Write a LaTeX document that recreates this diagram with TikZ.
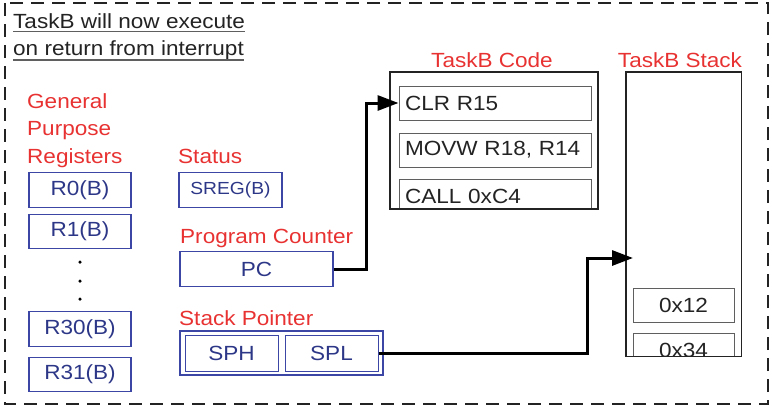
\documentclass[tikz,border=0pt]{standalone}
\usepackage{fontspec}
\setmainfont{Liberation Sans}[FakeStretch=1.1]
\usetikzlibrary{arrows.meta}
\definecolor{lblred}{RGB}{232,50,50}
\definecolor{regblue}{RGB}{60,70,165}
\definecolor{regtext}{RGB}{45,55,135}
\definecolor{codegray}{RGB}{95,95,95}
\definecolor{inkdark}{RGB}{35,35,35}
\begin{document}
\begin{tikzpicture}[x=1pt,y=-1pt,
  bigfont/.style={font=\fontsize{20.5}{24}\selectfont},
  lbl/.style={bigfont, anchor=base west, inner sep=0pt, text=lblred},
  ttl/.style={bigfont, anchor=base west, inner sep=0pt, text=inkdark},
  regbox/.style={bigfont, draw=regblue, line width=1.2pt, text=regtext, inner sep=0pt, minimum height=34.5pt},
  codebox/.style={bigfont, draw=codegray, line width=1pt, text=inkdark, inner xsep=6pt, inner ysep=0pt,
     minimum height=34pt, text width=180pt, align=left},
  stackbox/.style={bigfont, draw=codegray, line width=1pt, text=inkdark, inner sep=0pt,
     minimum width=101pt, minimum height=34pt},
  frame/.style={draw=inkdark, line width=1.4pt},
  arr/.style={line width=3pt, -{Triangle[length=21pt,width=15pt]}},
  vdot/.style={circle, fill=black, inner sep=0pt, minimum size=3.5pt}
]
\useasboundingbox (0,0) rectangle (772,410);
% outer dashed border
\draw[draw=inkdark, line width=1.3pt, dash pattern=on 13pt off 8pt] (5,3) rectangle (768,404);

% title
\node[ttl] (t1) at (13,28) {TaskB will now execute};
\node[ttl] (t2) at (13,55) {on return from interrupt};
\draw[codegray, line width=1.3pt] ([yshift=-3.5pt]t1.base west) -- ([yshift=-3.5pt]t1.base east);
\draw[codegray, line width=1.3pt] ([yshift=-5pt]t2.base west) -- ([yshift=-5pt]t2.base east);

% red labels
\node[lbl] (lgen) at (27,108) {General};
\node[lbl] (lpur) at (27,135.5) {Purpose};
\node[lbl] (lreg) at (27,163) {Registers};
\node[lbl] (lsta) at (178,163) {Status};
\node[lbl] (lpc)  at (180,243) {Program Counter};
\node[lbl] (lsp)  at (179,325) {Stack Pointer};
\node[lbl, anchor=base] (lcode) at (492,67) {TaskB Code};
\node[lbl, anchor=base] (lstk) at (680,67) {TaskB Stack};

% general purpose registers
\node[regbox, minimum width=102pt] (r0) at (80,190) {R0(B)};
\node[regbox, minimum width=102pt] (r1) at (80,231.5) {R1(B)};
\node[vdot] (d1) at (80,262) {};
\node[vdot] (d2) at (80,281) {};
\node[vdot] (d3) at (80,299) {};
\node[regbox, minimum width=102pt] (r30) at (80,329) {R30(B)};
\node[regbox, minimum width=102pt] (r31) at (80,374.5) {R31(B)};

% status, PC, SP
\node[regbox, minimum width=103pt, font=\fontsize{17.5}{20}\selectfont] (sreg) at (230.5,190) {SREG(B)};
\node[regbox, minimum width=153pt] (pc) at (256.5,269) {PC};
\node[draw=regblue, line width=1.2pt, minimum width=203pt, minimum height=44pt, inner sep=0pt] (sp) at (281.5,353) {};
\node[regbox, minimum width=93pt, minimum height=36pt, line width=1pt] (sph) at (231.5,353) {SPH};
\node[regbox, minimum width=93pt, minimum height=36pt, line width=1pt] (spl) at (331.5,353) {SPL};

% TaskB code
\node[minimum width=208pt, minimum height=137pt, inner sep=0pt] (code) at (494,140.5) {};
\node[codebox] (clr) at (495,103) {CLR R15};
\node[codebox] (movw) at (495,150) {MOVW R18, R14};
\begin{scope}
  \clip (code.south west) rectangle (code.north east);
  \node[codebox] (call) at (495,196) {CALL 0xC4};
\end{scope}
\draw[frame, line width=1.5pt] (code.south west) rectangle (code.north east);

% TaskB stack
\node[minimum width=115pt, minimum height=284pt, inner sep=0pt] (stack) at (683.5,214) {};
\node[stackbox] (s12) at (683.5,305) {0x12};
\begin{scope}
  \clip (stack.south west) rectangle (stack.north east);
  \node[stackbox] (s34) at (683.5,350) {0x34};
\end{scope}
\draw[frame] (stack.south west) rectangle (stack.north east);

% connectors
\coordinate (sptip) at (633,258);
\draw[arr] (pc.east) -- ++(33,0) |- (clr.west);
\draw[arr] (spl.east) -- (587,353) |- (sptip);
\end{tikzpicture}
\end{document}
